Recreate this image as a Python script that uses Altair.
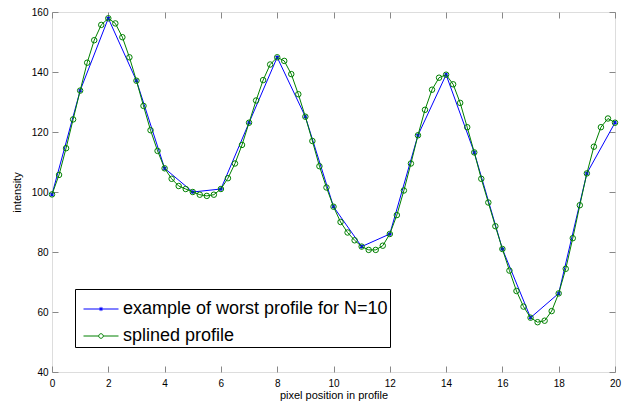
import altair as alt
import pandas as pd

# ---- data ----
blue_x = list(range(21))
blue_y = [99.2, 133.8, 157.9, 137.1, 107.9, 100.0, 101.0, 123.1, 144.9, 125.1, 95.1,
          81.8, 86.0, 118.9, 139.1, 113.2, 81.0, 58.1, 66.2, 106.2, 123.1]

spline_x = [i / 4 for i in range(81)]
spline_y = [99.2, 105.7, 114.6, 124.2, 133.8, 143.1, 150.6, 155.7, 157.9,
            156.2, 151.6, 144.9, 137.1, 128.7, 120.6, 113.7, 107.9,
            104.4, 102.0, 101.0, 100.0, 99.1, 98.7, 99.1, 101.0,
            104.6, 109.5, 115.7, 123.1, 130.5, 137.3, 142.5, 144.9,
            143.7, 139.3, 132.6, 125.1, 117.0, 108.6, 101.5, 95.1,
            90.0, 86.5, 83.9, 81.8, 80.7, 80.7, 82.1, 86.0,
            92.3, 100.5, 109.5, 118.9, 127.4, 134.1, 138.1, 139.1,
            135.9, 129.7, 121.6, 113.2, 104.4, 96.5, 88.6, 81.0,
            73.8, 67.0, 61.8, 58.1, 56.6, 57.1, 60.3, 66.2,
            74.4, 84.6, 95.6, 106.2, 115.1, 121.6, 124.5, 123.1]

series_names = ["example of worst profile for N=10", "splined profile"]
series_colors = ["#0000ff", "#008000"]
x_ticks = [0, 2, 4, 6, 8, 10, 12, 14, 16, 18, 20]
y_ticks = [40, 60, 80, 100, 120, 140, 160]

blue_df = pd.DataFrame({"x": blue_x, "y": blue_y, "series": series_names[0]})
green_df = pd.DataFrame({"x": spline_x, "y": spline_y, "series": series_names[1]})
all_df = pd.concat([blue_df, green_df], ignore_index=True)

FONT = "Liberation Sans"
xscale = alt.Scale(domain=[0, 20], nice=False, zero=False)
yscale = alt.Scale(domain=[40, 160], nice=False, zero=False)

asterisk = "M0,-1V1M-0.87,-0.5L0.87,0.5M-0.87,0.5L0.87,-0.5"
# legend symbols: line with marker, unit box scaled to 35px
leg_blue = "M-1,0H1M0,-0.12V0.12M-0.1,-0.06L0.1,0.06M-0.1,0.06L0.1,-0.06"
leg_green = ("M-1,0H-0.13M0.13,0H1M0.13,0A0.13,0.13,0,1,1,-0.13,0"
             "A0.13,0.13,0,1,1,0.13,0")

common_axis = dict(offset=-6, tickSize=6, domain=False, grid=False, labelFlush=False,
                   titleFontWeight=400, labelFontWeight=400)

main_x = alt.X("x:Q", scale=xscale, title="pixel position in profile",
               axis=alt.Axis(values=x_ticks, orient="bottom", labelPadding=6, titlePadding=1,
                             **common_axis))
main_y = alt.Y("y:Q", scale=yscale, title="intensity",
               axis=alt.Axis(values=y_ticks, orient="left", labelPadding=4, titlePadding=9,
                             **common_axis))
top_x = alt.X("x:Q", scale=xscale,
              axis=alt.Axis(values=x_ticks, orient="top", labels=False, title=None,
                            **common_axis))
right_y = alt.Y("y:Q", scale=yscale,
                axis=alt.Axis(values=y_ticks, orient="right", labels=False, title=None,
                              **common_axis))
nx = alt.X("x:Q", scale=xscale, axis=None)
ny = alt.Y("y:Q", scale=yscale, axis=None)

blue_line = alt.Chart(blue_df).mark_line(color=series_colors[0], strokeWidth=1).encode(
    x=main_x, y=main_y)
blue_pts = alt.Chart(blue_df).mark_point(shape=asterisk, color=series_colors[0], size=14,
                                         strokeWidth=1.3, opacity=1).encode(x=nx, y=ny)
green_line = alt.Chart(green_df).mark_line(color=series_colors[1], strokeWidth=1).encode(
    x=top_x, y=right_y)
green_pts = alt.Chart(green_df).mark_point(shape="circle", color=series_colors[1], size=30,
                                           filled=False, strokeWidth=1, opacity=1).encode(
    x=nx, y=ny)

legend_src = alt.Chart(all_df).transform_filter("false").mark_point(
    size=1225, filled=False, strokeWidth=1, opacity=1).encode(
    x=nx, y=ny,
    color=alt.Color("series:N", scale=alt.Scale(domain=series_names, range=series_colors),
                    legend=alt.Legend(title=None, orient="none", legendX=23, legendY=277,
                                      labelFont=FONT, labelFontSize=18, labelColor="black",
                                      strokeColor="black", fillColor="white", padding=2,
                                      symbolOffset=6, rowPadding=-2, labelOffset=4,
                                      symbolStrokeWidth=1, symbolSize=1225, labelLimit=400)),
    shape=alt.Shape("series:N", scale=alt.Scale(domain=series_names, range=[leg_blue, leg_green])),
)

chart = alt.layer(blue_line, blue_pts, green_line, green_pts, legend_src).resolve_axis(
    x="independent", y="independent"
).properties(
    width=563, height=360,
    padding={"left": 44, "top": 4, "right": 9, "bottom": 30},
    autosize=alt.AutoSizeParams(type="none"),
).configure_view(
    stroke="black", strokeWidth=1
).configure_axis(
    labelFont=FONT, labelFontSize=11, labelColor="black", tickColor="black",
    titleFont=FONT, titleFontSize=11, titleFontWeight=400, titleColor="black",
    tickWidth=1,
).configure(background="white")

chart.save("out.html", embed_options={"renderer": "svg", "actions": False})
